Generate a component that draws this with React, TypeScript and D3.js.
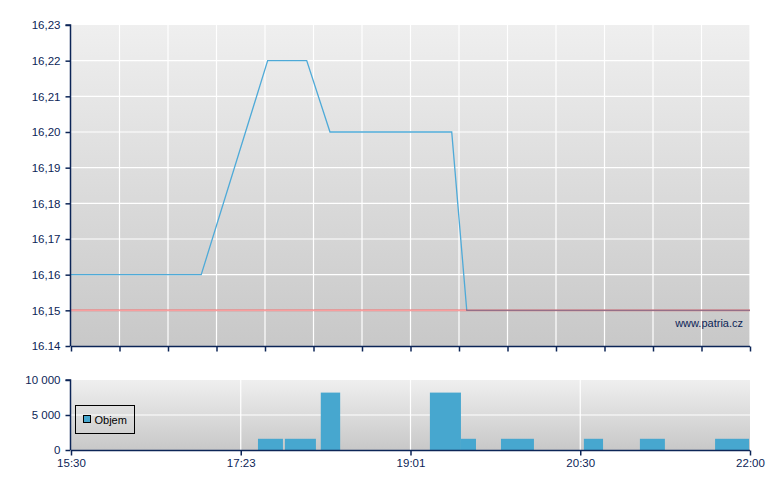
import { useRef, useEffect } from 'react'
import * as d3 from 'd3'

// x positions are in "slots" of the session axis (0 = 15:30, 28 = 22:00)
const priceSlots = [0, 5.37, 8.11, 9.72, 10.68, 15.7, 16.32, 28]
const priceValues = [16.16, 16.16, 16.22, 16.22, 16.2, 16.2, 16.15, 16.15]
const referencePrice = 16.15

const volumeStart = [7.71, 8.82, 10.3, 14.8, 16.08, 17.73, 21.15, 23.46, 26.56]
const volumeEnd = [8.74, 10.1, 11.1, 16.08, 16.7, 19.09, 21.94, 24.49, 27.96]
const volumeValues = [1600, 1600, 8200, 8200, 1600, 1600, 1600, 1600, 1600]

const timeLabels = ['15:30', '17:23', '19:01', '20:30', '22:00']
const priceTicks = [16.14, 16.15, 16.16, 16.17, 16.18, 16.19, 16.2, 16.21, 16.22, 16.23]
const volumeTicks = [0, 5000, 10000]

const W = 780
const H = 490
const navy = '#0c2557'
const font = '"Liberation Sans", Arial, sans-serif'

export default function App() {
  const svgRef = useRef<SVGSVGElement>(null)

  useEffect(() => {
    if (!svgRef.current) return
    const svg = d3.select(svgRef.current)
    svg.selectAll('*').remove()

    const left = 71
    const right = 750
    const x = d3.scaleLinear().domain([0, 28]).range([left, right])
    const y = d3.scaleLinear().domain([16.14, 16.23]).range([346, 25])
    const yv = d3.scaleLinear().domain([0, 10000]).range([450, 380])

    const defs = svg.append('defs')
    const grad = defs.append('linearGradient')
      .attr('id', 'bg').attr('x1', 0).attr('y1', 0).attr('x2', 0).attr('y2', 1)
    grad.append('stop').attr('offset', '0%').attr('stop-color', '#efefef')
    grad.append('stop').attr('offset', '100%').attr('stop-color', '#c8c8c8')

    // ---------- price panel ----------
    svg.append('rect')
      .attr('x', left).attr('y', y(16.23))
      .attr('width', right - left).attr('height', y(16.14) - y(16.23))
      .attr('fill', 'url(#bg)')

    const gridSlots = d3.range(0, 29, 2)
    svg.append('g').selectAll('line')
      .data(gridSlots.slice(1))
      .enter().append('line')
      .attr('x1', d => x(d)).attr('x2', d => x(d))
      .attr('y1', y(16.23)).attr('y2', y(16.14))
      .attr('stroke', '#fff').attr('stroke-width', 1.2)

    svg.append('g').selectAll('line')
      .data(priceTicks.slice(1, -1))
      .enter().append('line')
      .attr('x1', left).attr('x2', right)
      .attr('y1', d => y(d)).attr('y2', d => y(d))
      .attr('stroke', '#fff').attr('stroke-width', 1.2)

    const priceLine = d3.line<number>()
      .x((d, i) => x(priceSlots[i]))
      .y(d => y(d))

    svg.append('path')
      .datum(priceValues)
      .attr('d', priceLine)
      .attr('fill', 'none')
      .attr('stroke', '#4eaad8')
      .attr('stroke-width', 1.3)

    svg.append('line')
      .attr('x1', left).attr('x2', right)
      .attr('y1', y(referencePrice)).attr('y2', y(referencePrice))
      .attr('stroke', '#f02828').attr('stroke-opacity', 0.45)
      .attr('stroke-width', 2)

    svg.append('text')
      .attr('x', 743).attr('y', 327)
      .attr('text-anchor', 'end')
      .attr('font-family', font).attr('font-size', 11)
      .attr('fill', navy)
      .text('www.patria.cz')

    // the source prints the lowest label with a dot
    const priceFormat = (d: number) =>
      d === 16.14 ? '16.14' : d3.format('.2f')(d).replace('.', ',')

    const yAxis = svg.append('g')
      .attr('transform', `translate(${left - 0.5},0)`)
      .call(d3.axisLeft(y).tickValues(priceTicks).tickSize(5).tickPadding(5)
        .tickFormat(d => priceFormat(d as number)))
    yAxis.selectAll('path,line').attr('stroke', navy).attr('stroke-width', 1.5)
    yAxis.selectAll('text').attr('fill', navy).attr('font-family', font).attr('font-size', 11.5)
    yAxis.select('.domain').attr('d', `M-5,${y(16.23)}H0V${y(16.14)}`)

    const xAxisTop = svg.append('g')
      .attr('transform', `translate(0,${y(16.14) + 0.5})`)
      .call(d3.axisBottom(x).tickValues(gridSlots).tickSize(5).tickFormat(() => ''))
    xAxisTop.selectAll('path,line').attr('stroke', navy).attr('stroke-width', 1.5)
    xAxisTop.select('.domain').attr('d', `M${left},0H${right}`)

    // ---------- volume panel ----------
    svg.append('rect')
      .attr('x', left).attr('y', yv(10000))
      .attr('width', right - left).attr('height', yv(0) - yv(10000))
      .attr('fill', 'url(#bg)')

    const labelSlots = timeLabels.map((_, i) => i * 7)
    svg.append('g').selectAll('line')
      .data(labelSlots.slice(1, -1))
      .enter().append('line')
      .attr('x1', d => x(d)).attr('x2', d => x(d))
      .attr('y1', yv(10000)).attr('y2', yv(0))
      .attr('stroke', '#fff').attr('stroke-width', 1.2)

    svg.append('line')
      .attr('x1', left).attr('x2', right)
      .attr('y1', yv(5000)).attr('y2', yv(5000))
      .attr('stroke', '#fff').attr('stroke-width', 1.2)

    svg.append('g').selectAll('rect')
      .data(volumeValues)
      .enter().append('rect')
      .attr('x', (d, i) => x(volumeStart[i]))
      .attr('width', (d, i) => x(volumeEnd[i]) - x(volumeStart[i]))
      .attr('y', d => yv(d))
      .attr('height', d => yv(0) - yv(d))
      .attr('fill', '#47a7cf')

    const yvAxis = svg.append('g')
      .attr('transform', `translate(${left - 0.5},0)`)
      .call(d3.axisLeft(yv).tickValues(volumeTicks).tickSize(5).tickPadding(5)
        .tickFormat(d => d3.format(',')(d as number).replace(/,/g, ' ')))
    yvAxis.selectAll('path,line').attr('stroke', navy).attr('stroke-width', 1.5)
    yvAxis.selectAll('text').attr('fill', navy).attr('font-family', font).attr('font-size', 11.5)
    yvAxis.select('.domain').attr('d', `M-5,${yv(10000)}H0V${yv(0)}`)

    const xAxis = svg.append('g')
      .attr('transform', `translate(0,${yv(0) + 0.5})`)
      .call(d3.axisBottom(x).tickValues(labelSlots).tickSize(5).tickPadding(3)
        .tickFormat((d, i) => timeLabels[i]))
    xAxis.selectAll('path,line').attr('stroke', navy).attr('stroke-width', 1.5)
    xAxis.selectAll('text').attr('fill', navy).attr('font-family', font).attr('font-size', 11.5)
    xAxis.select('.domain').attr('d', `M${left},0H${right}`)

    // legend
    const legend = svg.append('g').attr('transform', 'translate(75.5,405.5)')
    legend.append('rect')
      .attr('width', 59).attr('height', 28)
      .attr('fill', 'none').attr('stroke', '#000')
    legend.append('rect')
      .attr('x', 8).attr('y', 10).attr('width', 7).attr('height', 7)
      .attr('fill', '#47a7cf').attr('stroke', '#000')
    legend.append('text')
      .attr('x', 19).attr('y', 18.5)
      .attr('font-family', font).attr('font-size', 11)
      .attr('fill', '#000')
      .text('Objem')
  }, [])

  return (
    <svg
      ref={svgRef}
      width={W}
      height={H}
      style={{ position: 'absolute', left: 0, top: 0, background: '#fff' }}
    />
  )
}
